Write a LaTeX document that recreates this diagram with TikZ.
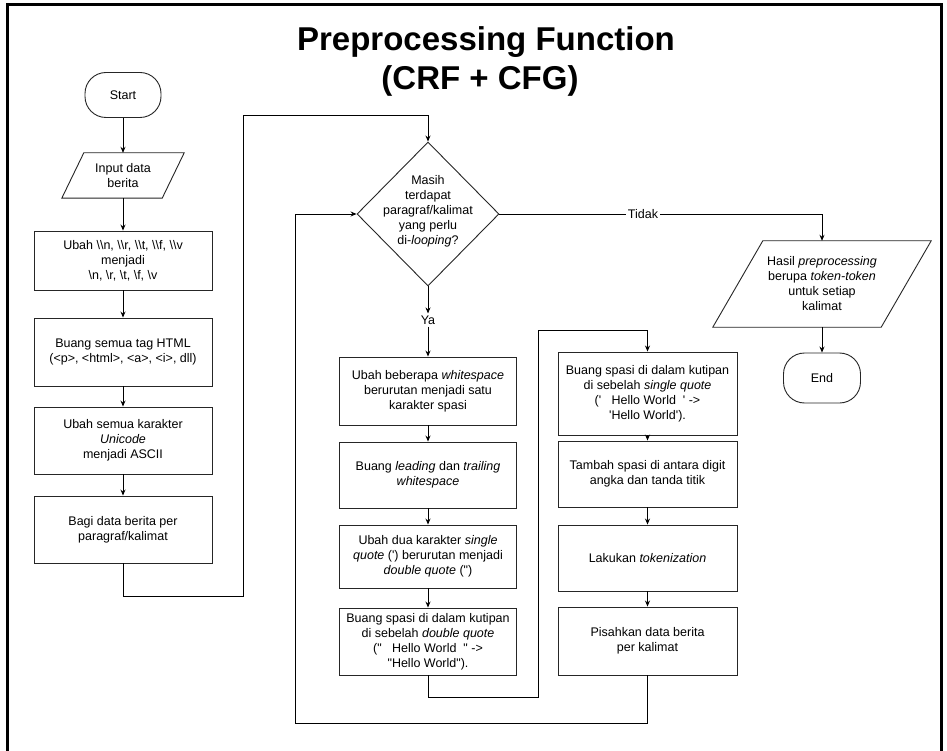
\documentclass[tikz,border=0pt]{standalone}
\usepackage{fontspec}
\setmainfont{Liberation Sans}
\usetikzlibrary{arrows.meta,shapes.geometric}
\begin{document}
\begin{tikzpicture}[x=1pt,y=-1pt,
  every node/.style={font=\fontsize{12.5}{15}\selectfont},
  outline/.style={draw=black!85,line width=0.9pt},
  box/.style={outline,rectangle,align=center,inner sep=0pt},
  term/.style={box,rounded corners=21pt},
  io/.style={rectangle,align=center,inner sep=0pt},
  conn/.style={line width=0.9pt,draw=black},
  arr/.style={conn,-{Stealth[length=6pt,width=5pt]}},
  lbl/.style={inner sep=2pt},
  ttl/.style={anchor=base,font=\fontsize{33}{39}\selectfont\bfseries}]
\useasboundingbox (0,0) rectangle (947,751);
\fill[white] (0,0) rectangle (947,751);
\draw[line width=3pt] (7.5,752) -- (7.5,5) -- (941,5) -- (941,752);

% title
\node[ttl] (t1) at (486,51) {Preprocessing Function};
\node[ttl] (t2) at (480,90) {(CRF + CFG)};

% left column
\node[term,minimum width=76pt,minimum height=45pt] (start) at (123,95) {Start};
\node[io,minimum width=100pt,minimum height=45pt] (inp) at (123,175.5) {Input data\\berita};
\draw[outline] ([xshift=11pt]inp.north west) -- ([xshift=11pt]inp.north east) -- ([xshift=-11pt]inp.south east) -- ([xshift=-11pt]inp.south west) -- cycle;
\node[box,minimum width=178pt,minimum height=59pt] (r1) at (123,260.5) {Ubah \textbackslash\textbackslash n, \textbackslash\textbackslash r, \textbackslash\textbackslash t, \textbackslash\textbackslash f, \textbackslash\textbackslash v\\menjadi\\\textbackslash n, \textbackslash r, \textbackslash t, \textbackslash f, \textbackslash v};
\node[box,minimum width=178pt,minimum height=68pt] (r2) at (123,352) {Buang semua tag HTML\\(<p>, <html>, <a>, <i>, dll)};
\node[box,minimum width=178pt,minimum height=67pt] (r3) at (123,440.5) {Ubah semua karakter\\\textit{Unicode}\\menjadi ASCII};
\node[box,minimum width=178pt,minimum height=67pt] (r4) at (123,529.5) {Bagi data berita per\\paragraf/kalimat};

% decision
\node[outline,diamond,minimum width=142pt,minimum height=144pt,inner sep=0pt] (dia) at (428,214) {\makebox[0pt]{\smash{\parbox[c]{120pt}{\centering Masih\\terdapat\\paragraf/kalimat\\yang perlu\\di-\textit{looping}?}}}};
\node[lbl] (ya) at (428,320) {Ya};
\node[lbl] (tidak) at (643,214) {Tidak};

% middle column
\node[box,minimum width=177pt,minimum height=68pt] (m1) at (428,391) {Ubah beberapa \textit{whitespace}\\berurutan menjadi satu\\karakter spasi};
\node[box,minimum width=177pt,minimum height=66pt] (m2) at (428,475) {Buang \textit{leading} dan \textit{trailing}\\\textit{whitespace}};
\node[box,minimum width=177pt,minimum height=63pt] (m3) at (428,556.5) {Ubah dua karakter \textit{single}\\\textit{quote} (\textquotesingle) berurutan menjadi\\\textit{double quote} (\textquotedbl)};
\node[box,minimum width=177pt,minimum height=67pt] (m4) at (428,641.5) {Buang spasi di dalam kutipan\\di sebelah \textit{double quote}\\(\textquotedbl\ \ \ Hello World\ \ \textquotedbl\ ->\\\textquotedbl Hello World\textquotedbl).};

% right column
\node[box,minimum width=179pt,minimum height=83pt] (s1) at (647.5,393.5) {Buang spasi di dalam kutipan\\di sebelah \textit{single quote}\\(\textquotesingle\ \ \ Hello World\ \ \textquotesingle\ ->\\\textquotesingle Hello World\textquotesingle).};
\node[box,minimum width=179pt,minimum height=66pt] (s2) at (647.5,474) {Tambah spasi di antara digit\\angka dan tanda titik};
\node[box,minimum width=179pt,minimum height=66pt] (s3) at (647.5,558) {Lakukan \textit{tokenization}};
\node[box,minimum width=179pt,minimum height=68pt] (s4) at (647.5,641) {Pisahkan data berita\\per kalimat};

% output
\node[io,minimum width=168pt,minimum height=86pt] (out) at (822,284) {Hasil \textit{preprocessing}\\berupa \textit{token-token}\\untuk setiap\\kalimat};
\draw[outline] ([xshift=25pt]out.north west) -- ([xshift=25pt]out.north east) -- ([xshift=-25pt]out.south east) -- ([xshift=-25pt]out.south west) -- cycle;
\node[term,minimum width=77pt,minimum height=50pt] (stop) at (822,378) {End};

% route points
\coordinate (a1) at (123,596);
\coordinate (a2) at (243,596);
\coordinate (a3) at (243,115);
\coordinate (a4) at (428,115);
\coordinate (b1) at (428,697);
\coordinate (b2) at (538,697);
\coordinate (b3) at (538,330);
\coordinate (b4) at (647.5,330);
\coordinate (c1) at (647.5,723);
\coordinate (c2) at (295,723);
\coordinate (c3) at (295,214);
\coordinate (d1) at (822,214);

% connectors
\draw[arr] (start.south) -- (inp.north);
\draw[arr] (inp.south) -- (r1.north);
\draw[arr] (r1.south) -- (r2.north);
\draw[arr] (r2.south) -- (r3.north);
\draw[arr] (r3.south) -- (r4.north);
\draw[arr] (r4.south) -- (a1) -- (a2) -- (a3) -- (a4) -- (dia.north);
\draw[arr] (dia.south) -- (ya.north);
\draw[arr] (ya.south) -- (m1.north);
\draw[arr] (m1.south) -- (m2.north);
\draw[arr] (m2.south) -- (m3.north);
\draw[arr] (m3.south) -- (m4.north);
\draw[arr] (m4.south) -- (b1) -- (b2) -- (b3) -- (b4) -- (s1.north);
\draw[arr] (s1.south) -- (s2.north);
\draw[arr] (s2.south) -- (s3.north);
\draw[arr] (s3.south) -- (s4.north);
\draw[arr] (s4.south) -- (c1) -- (c2) -- (c3) -- (dia.west);
\draw[conn] (dia.east) -- (tidak.west);
\draw[arr] (tidak.east) -- (d1) -- (out.north);
\draw[arr] (out.south) -- (stop.north);
\end{tikzpicture}
\end{document}
